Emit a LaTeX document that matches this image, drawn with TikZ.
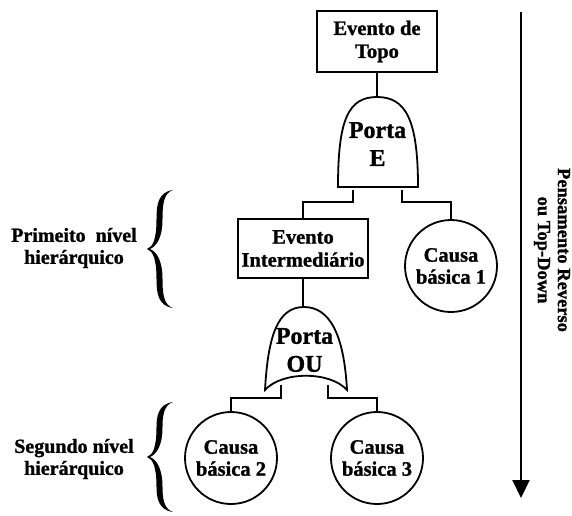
\documentclass[tikz,border=0pt]{standalone}
\usepackage{fontspec}
\setmainfont{Liberation Serif}[BoldFeatures={FakeBold=1.2}]
\usetikzlibrary{arrows.meta}
\tikzset{
  ln/.style={line width=1.8pt, line join=miter},
  evbox/.style={draw, line width=1.8pt, fill=white, inner sep=0pt, align=center,
    font=\bfseries\fontsize{20.5}{23}\selectfont},
  basic/.style={draw, circle, line width=1.8pt, fill=white, inner sep=0pt,
    minimum size=92pt, align=center, font=\bfseries\fontsize{20.5}{22}\selectfont},
  gatelbl/.style={align=center, inner sep=0pt, font=\bfseries\fontsize{24}{28}\selectfont},
  sidelbl/.style={align=center, inner sep=0pt, font=\bfseries\fontsize{20}{22}\selectfont},
  pics/curly/.style={code={
    \fill (26,-#1) .. controls (11,-#1+2) and (9.5,-#1+15) .. (9.5,-30)
      .. controls (9.5,-10) and (6,-2) .. (0,0)
      .. controls (6,2) and (9.5,10) .. (9.5,30)
      .. controls (9.5,#1-15) and (11,#1-2) .. (26,#1)
      .. controls (16.5,#1-3) and (15.5,#1-15) .. (15.5,30)
      .. controls (15.5,12) and (10,3) .. (3,0)
      .. controls (10,-3) and (15.5,-12) .. (15.5,-30)
      .. controls (15.5,-#1+15) and (16.5,-#1+3) .. (26,-#1) -- cycle;
  }},
}
\begin{document}
\begin{tikzpicture}[x=1pt, y=-1pt]
\useasboundingbox (0,0) rectangle (572,515);

% events and basic causes
\node[evbox, minimum width=120pt, minimum height=61pt] (topo) at (377,41.5) {Evento de\\Topo};
\node[evbox, minimum width=130pt, minimum height=59pt] (inter) at (303,248.5) {Evento\\Intermediário};
\node[basic] (c1) at (451,266) {Causa\\básica 1};
\node[basic] (c2) at (231,458) {Causa\\básica 2};
\node[basic] (c3) at (377,458) {Causa\\básica 3};

% gate anchor points
\coordinate (andtop) at (377,97);
\coordinate (andl) at (353,190);
\coordinate (andr) at (402,190);
\coordinate (ortop) at (304,307);
\coordinate (orl) at (281,385);
\coordinate (orr) at (328,385);

% connectors
\draw[ln] (topo.south) -- (andtop);
\draw[ln] (andl) |- (303,202) -- (inter.north);
\draw[ln] (andr) |- (451,202) -- (c1.north);
\draw[ln] (inter.south) -- (303,307);
\draw[ln] (orl) |- (231,398) -- (c2.north);
\draw[ln] (orr) |- (377,398) -- (c3.north);

% AND gate
\draw[ln, fill=white] (338,187) .. controls (338,120) and (348,97) .. (andtop)
  .. controls (406,97) and (418,120) .. (418,187) -- cycle;
\node[gatelbl] (andlbl) at (377.5,144) {Porta\\E};

% OR gate
\draw[ln, fill=white] (265,390) .. controls (268,335) and (278,307) .. (ortop)
  .. controls (330,307) and (344,335) .. (347,390)
  .. controls (330,371) and (282,371) .. (265,390) -- cycle;
\node[gatelbl] (orlbl) at (304.5,350) {Porta\\OU};

% hierarchy levels
\pic at (147,249) {curly=59};
\pic at (147,457) {curly=55};
\node[sidelbl] (lvl1) at (74,248) {Primeito\enspace nível\\hierárquico};
\node[sidelbl] (lvl2) at (74,459) {Segundo nível\\hierárquico};

% top-down direction
\coordinate (arrtop) at (521,12);
\coordinate (arrbot) at (521,498);
\draw[line width=2pt, -{Triangle[length=18pt,width=17pt]}] (arrtop) -- (arrbot);
\node[align=center, inner sep=0pt, rotate=-90,
  font=\bfseries\fontsize{18.5}{20}\selectfont] (dir) at (552,250)
  {Pensamento Reverso\\ou Top-Down};
\end{tikzpicture}
\end{document}
